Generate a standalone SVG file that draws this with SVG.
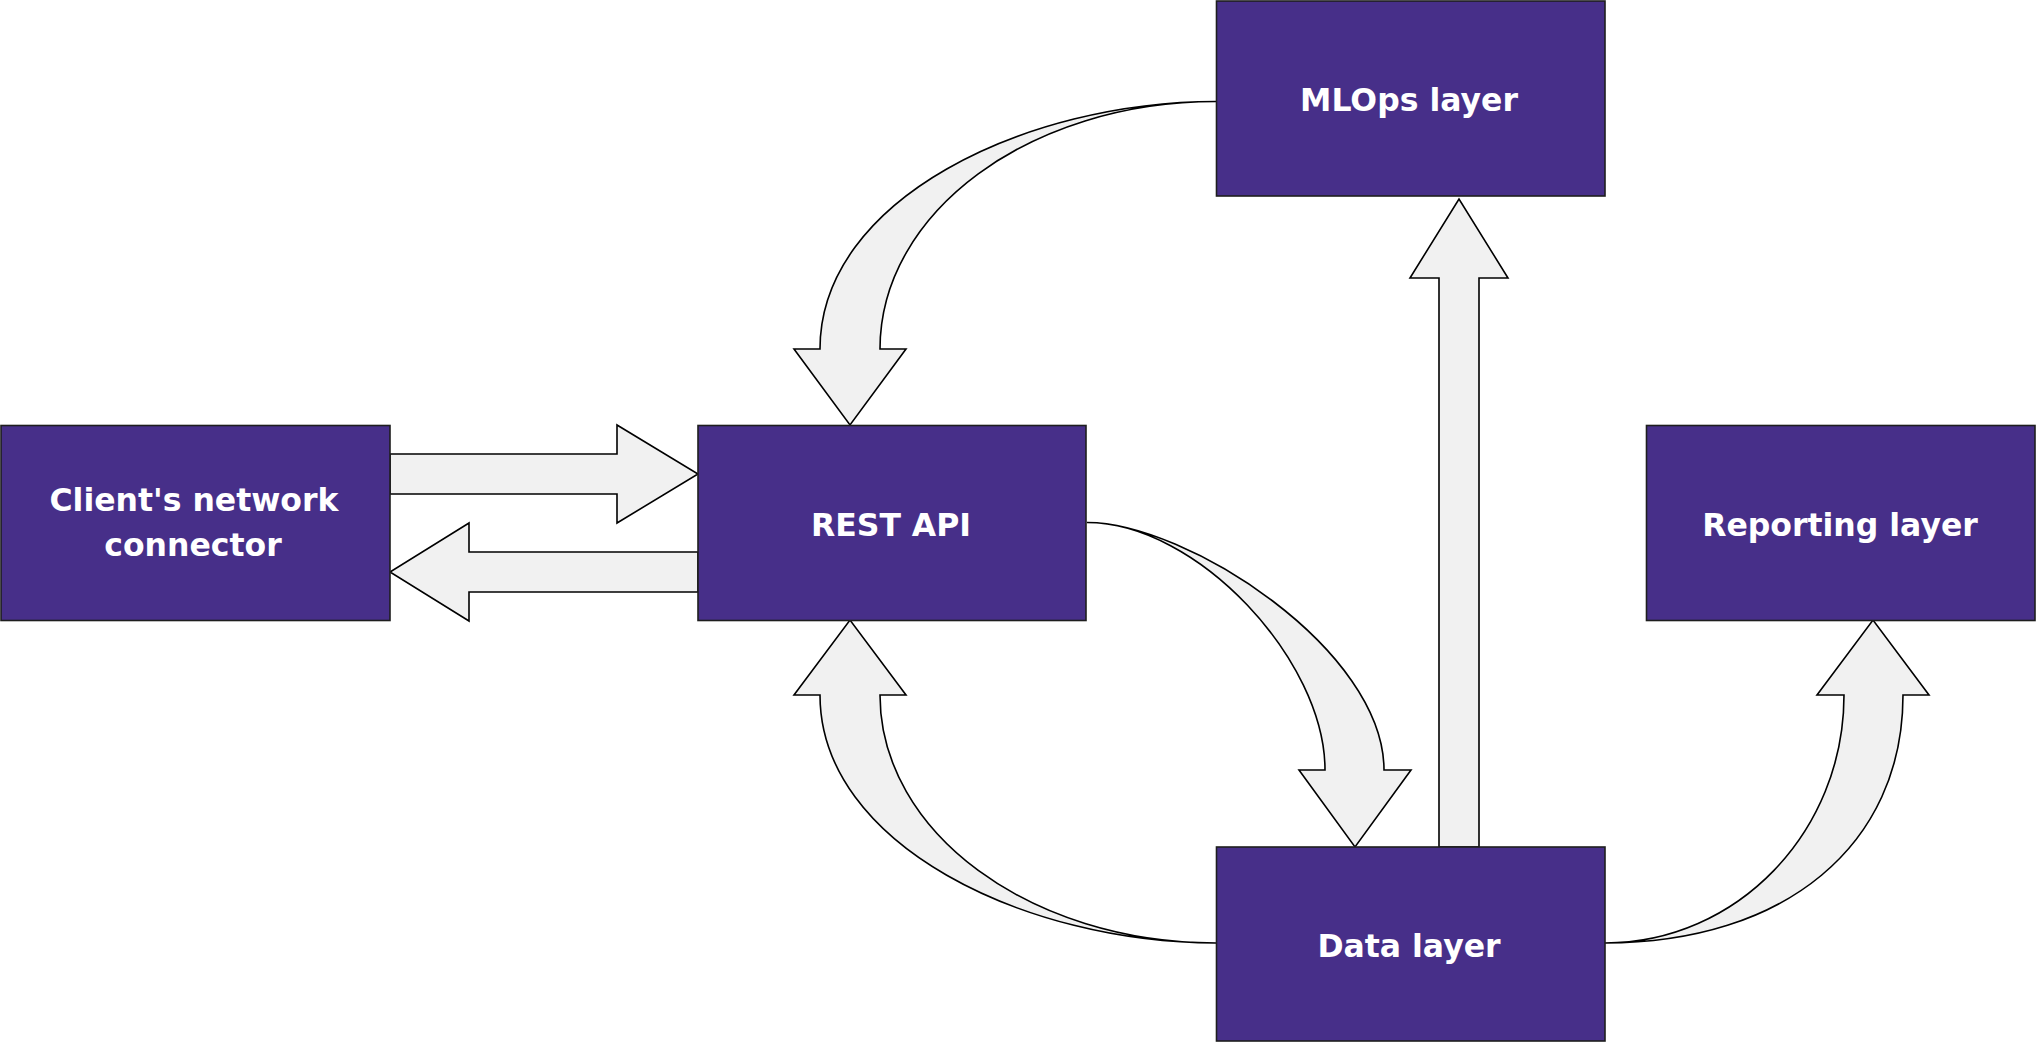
<svg xmlns="http://www.w3.org/2000/svg" width="2038" height="1042" viewBox="0 0 2038 1042">
<style>
.box{fill:#472f89;stroke:#1e1e1e;stroke-width:1.6}
.lbl{font-family:"DejaVu Sans","Verdana",sans-serif;font-weight:bold;font-size:31.5px;fill:#ffffff;text-anchor:middle}
.arr{fill:#f1f1f1;stroke:#000000;stroke-width:1.6;stroke-linejoin:miter}
</style>
<rect x="0" y="0" width="2038" height="1042" fill="#ffffff"/>
<g id="connectors">
<path class="arr" d="M390,454 L617,454 L617,425 L698,474 L617,523 L617,494 L390,494 Z"/>
<path class="arr" d="M698,552 L469,552 L469,523 L390,572 L469,621 L469,592 L698,592 Z"/>
<path class="arr" d="M1439,847 L1439,278 L1410,278 L1459,199 L1508,278 L1479,278 L1479,847 Z"/>
<path class="arr" d="M1216,101.5 C1026,101.5 820,199 820,349 L794,349 L850,425 L906,349 L880,349 C880,212 1030,101.5 1216,101.5 Z"/>
<path class="arr" d="M1216,943 C1026,943 820,845 820,695 L794,695 L850,620 L906,695 L880,695 C880,832 1030,943 1216,943 Z"/>
<path class="arr" d="M1087,522.5 C1187,522.5 1384,650 1384,770 L1411,770 L1355,847 L1299,770 L1325,770 C1325,660 1197,522.5 1087,522.5 Z"/>
<path class="arr" d="M1605,943 C1785,943 1903,845 1903,695 L1929,695 L1873,620 L1817,695 L1844,695 C1844,832 1737,943 1605,943 Z"/>
</g>
<g id="client">
<rect class="box" x="1" y="425.5" width="389" height="195"/>
<text class="lbl" x="194" y="511">Client's network</text>
<text class="lbl" x="193" y="555.5">connector</text>
</g>
<g id="rest-api">
<rect class="box" x="698" y="425.5" width="388" height="195"/>
<text class="lbl" x="891" y="535.5">REST API</text>
</g>
<g id="mlops">
<rect class="box" x="1216.5" y="1" width="388.5" height="195"/>
<text class="lbl" x="1409" y="111">MLOps layer</text>
</g>
<g id="reporting">
<rect class="box" x="1646.5" y="425.5" width="388.5" height="195"/>
<text class="lbl" x="1840" y="536">Reporting layer</text>
</g>
<g id="data">
<rect class="box" x="1216.5" y="847" width="388.5" height="194"/>
<text class="lbl" x="1409" y="956.5">Data layer</text>
</g>
</svg>
